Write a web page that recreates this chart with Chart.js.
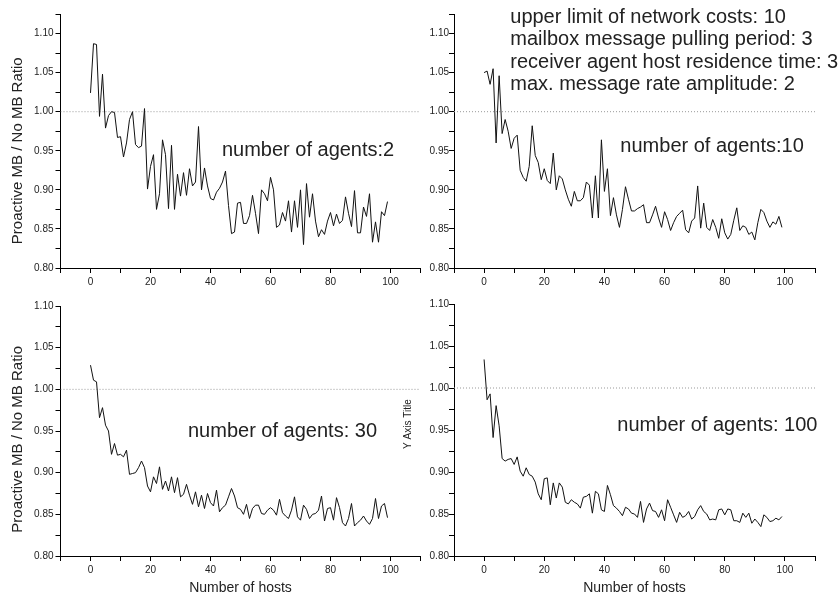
<!DOCTYPE html>
<html>
<head>
<meta charset="utf-8">
<script src="https://cdn.jsdelivr.net/npm/chart.js@4.4.1/dist/chart.umd.min.js"></script>
<style>
  body { margin: 0; background: #fff; }
  #wrap { position: relative; width: 840px; height: 597px; overflow: hidden; }
  canvas { position: absolute; }
</style>
</head>
<body>
<div id="wrap">
  <canvas id="agents2" width="430" height="298" style="left:0;top:0"></canvas>
  <canvas id="agents10" width="446" height="298" style="left:394px;top:0"></canvas>
  <canvas id="agents30" width="430" height="299" style="left:0;top:298px"></canvas>
  <canvas id="agents100" width="446" height="299" style="left:394px;top:298px"></canvas>
</div>
<script>
// number of hosts, 0..99
const hosts = Array.from({ length: 100 }, (_, i) => i);

const ratioAgents2 = [
  1.024, 1.087, 1.086, 0.994, 1.048, 0.979, 0.995, 1.000, 0.999, 0.967,
  0.968, 0.942, 0.960, 0.990, 1.000, 0.958, 0.954, 0.956, 1.004, 0.901,
  0.930, 0.945, 0.875, 0.895, 0.964, 0.945, 0.876, 0.957, 0.875, 0.920,
  0.892, 0.922, 0.893, 0.927, 0.905, 0.910, 0.981, 0.900, 0.928, 0.905,
  0.889, 0.887, 0.897, 0.902, 0.910, 0.924, 0.880, 0.844, 0.846, 0.883,
  0.884, 0.857, 0.857, 0.867, 0.893, 0.870, 0.844, 0.900, 0.895, 0.886,
  0.916, 0.900, 0.852, 0.855, 0.871, 0.860, 0.886, 0.846, 0.886, 0.852,
  0.900, 0.830, 0.908, 0.865, 0.895, 0.860, 0.840, 0.849, 0.843, 0.860,
  0.871, 0.854, 0.869, 0.857, 0.861, 0.891, 0.870, 0.853, 0.899, 0.845,
  0.845, 0.878, 0.866, 0.895, 0.833, 0.859, 0.833, 0.872, 0.867, 0.885
];

const ratioAgents10 = [
  1.050, 1.052, 1.035, 1.055, 0.960, 1.046, 0.972, 0.990, 0.975, 0.953,
  0.966, 0.970, 0.925, 0.916, 0.911, 0.930, 0.982, 0.944, 0.935, 0.913,
  0.927, 0.912, 0.908, 0.947, 0.900, 0.918, 0.914, 0.900, 0.888, 0.879,
  0.898, 0.886, 0.886, 0.890, 0.910, 0.906, 0.864, 0.918, 0.864, 0.964,
  0.898, 0.927, 0.867, 0.890, 0.868, 0.852, 0.875, 0.904, 0.888, 0.873,
  0.873, 0.876, 0.878, 0.881, 0.858, 0.858, 0.868, 0.879, 0.864, 0.852,
  0.872, 0.862, 0.848, 0.858, 0.866, 0.870, 0.874, 0.849, 0.845, 0.860,
  0.864, 0.905, 0.851, 0.883, 0.852, 0.848, 0.862, 0.852, 0.838, 0.863,
  0.845, 0.837, 0.843, 0.861, 0.877, 0.848, 0.854, 0.852, 0.843, 0.846,
  0.836, 0.858, 0.875, 0.871, 0.860, 0.852, 0.859, 0.856, 0.866, 0.852
];

const ratioAgents30 = [
  1.029, 1.011, 1.009, 0.966, 0.978, 0.957, 0.950, 0.922, 0.935, 0.921,
  0.922, 0.919, 0.927, 0.898, 0.899, 0.900, 0.906, 0.914, 0.906, 0.884,
  0.877, 0.895, 0.887, 0.907, 0.880, 0.890, 0.878, 0.895, 0.876, 0.894,
  0.871, 0.874, 0.886, 0.873, 0.862, 0.877, 0.859, 0.873, 0.857, 0.875,
  0.864, 0.860, 0.879, 0.853, 0.858, 0.861, 0.871, 0.881, 0.872, 0.858,
  0.856, 0.850, 0.862, 0.845, 0.857, 0.861, 0.861, 0.851, 0.850, 0.855,
  0.858, 0.855, 0.849, 0.868, 0.852, 0.848, 0.845, 0.855, 0.871, 0.847,
  0.843, 0.861, 0.856, 0.845, 0.850, 0.851, 0.855, 0.872, 0.842, 0.857,
  0.858, 0.843, 0.870, 0.858, 0.840, 0.836, 0.845, 0.863, 0.836, 0.840,
  0.843, 0.848, 0.842, 0.838, 0.845, 0.869, 0.845, 0.860, 0.863, 0.846
];

const ratioAgents100 = [
  1.034, 0.986, 0.993, 0.941, 0.979, 0.955, 0.916, 0.913, 0.915, 0.916,
  0.909, 0.918, 0.901, 0.895, 0.905, 0.897, 0.895, 0.888, 0.874, 0.867,
  0.892, 0.893, 0.861, 0.887, 0.869, 0.887, 0.882, 0.864, 0.862, 0.867,
  0.864, 0.862, 0.857, 0.870, 0.871, 0.874, 0.851, 0.877, 0.874, 0.855,
  0.853, 0.884, 0.873, 0.860, 0.857, 0.853, 0.848, 0.858, 0.856, 0.851,
  0.850, 0.846, 0.865, 0.840, 0.856, 0.863, 0.854, 0.853, 0.846, 0.855,
  0.842, 0.867, 0.858, 0.849, 0.840, 0.852, 0.846, 0.848, 0.853, 0.844,
  0.847, 0.855, 0.860, 0.853, 0.850, 0.843, 0.844, 0.843, 0.855, 0.856,
  0.849, 0.856, 0.855, 0.842, 0.842, 0.840, 0.851, 0.846, 0.851, 0.839,
  0.844, 0.840, 0.835, 0.849, 0.846, 0.841, 0.842, 0.845, 0.843, 0.847
];

// axis ticks
const xTicks = [-10, 0, 10, 20, 30, 40, 50, 60, 70, 80, 90, 100, 110];
const xTickLabels = ['0', '20', '40', '60', '80', '100'];
const yTicksTop = [0.800, 0.825, 0.850, 0.875, 0.900, 0.925, 0.950, 0.975, 1.000, 1.025, 1.050, 1.075, 1.100, 1.125];
const yTicksBottom = [0.800, 0.825, 0.850, 0.875, 0.900, 0.925, 0.950, 0.975, 1.000, 1.025, 1.050, 1.075, 1.100];
const yTickLabels = ['0.80', '0.85', '0.90', '0.95', '1.00', '1.05', '1.10'];
const refLevel = 1.0;

const yTitle = 'Proactive MB / No MB Ratio';
const xTitle = 'Number of hosts';
const paramLines = [
  'upper limit of network costs: 10',
  'mailbox message pulling period: 3',
  'receiver agent host residence time: 3',
  'max. message rate amplitude: 2'
];

const FONT = '"Liberation Sans", Arial, sans-serif';

// text notes and the y titles (the y titles sit a bit below the axis centre in the original)
const notesPlugin = {
  id: 'notes',
  afterDraw(chart, args, opts) {
    const ctx = chart.ctx;
    const xs = chart.scales.x, ys = chart.scales.y;
    ctx.save();
    ctx.fillStyle = '#222';
    ctx.font = '20px ' + FONT;
    ctx.textAlign = 'left';
    ctx.textBaseline = 'middle';
    (opts.items || []).forEach(n => {
      const px = xs.getPixelForValue(n.x);
      const py = ys.getPixelForValue(n.y);
      n.lines.forEach((t, k) => ctx.fillText(t, px, py + k * 22.5));
    });
    if (opts.yTitle) {
      const t = opts.yTitle;
      ctx.font = t.size + 'px ' + FONT;
      ctx.textAlign = 'center';
      ctx.translate(t.x, ys.getPixelForValue(t.y));
      ctx.rotate(-Math.PI / 2);
      ctx.fillText(t.text, 0, 0);
    }
    ctx.restore();
  }
};

function makePanel(id, values, o) {
  const ctx = document.getElementById(id).getContext('2d');
  return new Chart(ctx, {
    type: 'line',
    data: {
      datasets: [{
        data: values.map((v, i) => ({ x: hosts[i], y: v })),
        borderColor: '#111',
        borderWidth: 1,
        pointRadius: 0,
        tension: 0
      }, {
        data: [{ x: xTicks[0], y: refLevel }, { x: xTicks[xTicks.length - 1], y: refLevel }],
        borderColor: '#999',
        borderWidth: 1,
        borderDash: [1, 2],
        pointRadius: 0
      }]
    },
    options: {
      responsive: false,
      animation: false,
      layout: { padding: o.pad },
      plugins: {
        legend: { display: false },
        tooltip: { enabled: false },
        notes: { items: o.notes, yTitle: o.yTitle }
      },
      scales: {
        x: {
          type: 'linear',
          min: xTicks[0],
          max: xTicks[xTicks.length - 1],
          afterBuildTicks: s => { s.ticks = xTicks.map(v => ({ value: v })); },
          afterFit: s => { s.height = o.xHeight; },
          ticks: {
            color: '#222',
            font: { size: 10, family: FONT },
            padding: 3,
            maxRotation: 0,
            autoSkip: false,
            callback: v => xTickLabels.includes(String(v)) ? String(v) : ''
          },
          grid: { drawOnChartArea: false, drawTicks: true, tickLength: 5, color: '#000' },
          border: { display: true, color: '#000', width: 1 },
          title: {
            display: o.xTitle,
            text: xTitle,
            color: '#222',
            font: { size: 14, family: FONT },
            padding: { top: 0, bottom: 0 }
          }
        },
        y: {
          min: o.yTicks[0],
          max: o.yTicks[o.yTicks.length - 1],
          afterBuildTicks: s => { s.ticks = o.yTicks.map(v => ({ value: v })); },
          afterFit: s => { s.width = o.yWidth; },
          ticks: {
            color: '#222',
            font: { size: 10, family: FONT },
            padding: o.yPad,
            autoSkip: false,
            callback: v => {
              const t = Number(v).toFixed(2);
              return yTickLabels.includes(t) && Math.abs(Number(v) * 40 % 2) < 0.01 ? t : '';
            }
          },
          grid: { drawOnChartArea: false, drawTicks: true, tickLength: 5, color: '#000' },
          border: { display: true, color: '#000', width: 1 }
        }
      }
    },
    plugins: [notesPlugin]
  });
}

makePanel('agents2', ratioAgents2, {
  pad: { left: 0, top: 14, right: 9.5, bottom: 0 },
  yWidth: 60.5, xHeight: 30, yTicks: yTicksTop, yPad: 2, xTitle: false,
  yTitle: { text: yTitle, size: 15, x: 18, y: 0.95 },
  notes: [{ x: 43.8, y: 0.951, lines: ['number of agents:2'] }]
});

makePanel('agents10', ratioAgents10, {
  pad: { left: 0, top: 14, right: 25, bottom: 0 },
  yWidth: 60, xHeight: 30, yTicks: yTicksTop, yPad: 0, xTitle: false,
  notes: [
    { x: 8.7, y: 1.121, lines: paramLines },
    { x: 45.3, y: 0.955, lines: ['number of agents:10'] }
  ]
});

makePanel('agents30', ratioAgents30, {
  pad: { left: 0, top: 6, right: 9.5, bottom: 0 },
  yWidth: 60.5, xHeight: 41, yTicks: yTicksBottom, yPad: 2, xTitle: true,
  yTitle: { text: yTitle, size: 15, x: 18, y: 0.94 },
  notes: [{ x: 32.5, y: 0.95, lines: ['number of agents: 30'] }]
});

makePanel('agents100', ratioAgents100, {
  pad: { left: 0, top: 6, right: 25, bottom: 0 },
  yWidth: 60, xHeight: 41, yTicks: yTicksBottom, yPad: 0, xTitle: true,
  yTitle: { text: 'Y Axis Title', size: 10, x: 14, y: 0.957 },
  notes: [{ x: 44.3, y: 0.955, lines: ['number of agents: 100'] }]
});
</script>
</body>
</html>
